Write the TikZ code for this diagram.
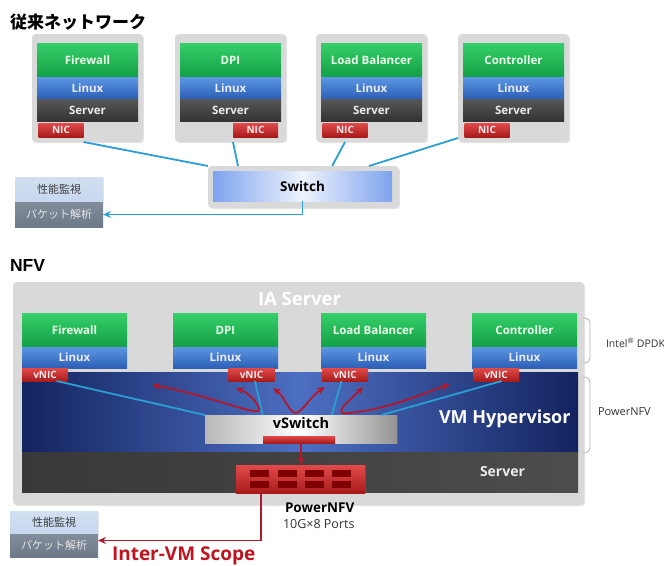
\documentclass[tikz,border=0pt]{standalone}
\usepackage{fontspec}
\setmainfont{Open Sans}
\newfontfamily\cjk{Noto Sans CJK JP}
\newfontfamily\arialf{Liberation Sans}
\usetikzlibrary{arrows.meta,calc,shadows}
\definecolor{cgray}{HTML}{D9D9D9}
\definecolor{appTop}{HTML}{36CF6A}
\definecolor{appBot}{HTML}{12A044}
\definecolor{linTop}{HTML}{5C97E2}
\definecolor{linBot}{HTML}{2C5FB6}
\definecolor{srvTop}{HTML}{585858}
\definecolor{srvBot}{HTML}{333333}
\definecolor{nicTop}{HTML}{E24A4A}
\definecolor{nicBot}{HTML}{A81B1B}
\definecolor{lineblue}{HTML}{2B9FD4}
\definecolor{arrred}{HTML}{B2182B}
\definecolor{navy}{HTML}{13235F}
\definecolor{hypmid}{HTML}{4D6FC2}
\definecolor{monA}{HTML}{C7D7EE}
\definecolor{monB}{HTML}{6C7989}
\definecolor{swblue}{HTML}{7EA3EE}
\definecolor{swlight}{HTML}{EEF3FD}
\definecolor{scopered}{HTML}{C0141E}
\definecolor{portred}{HTML}{7E0000}
\newcommand{\fsz}[1]{\fontsize{#1}{#1}\selectfont}
\tikzset{
  every node/.style={inner sep=0pt, outer sep=0pt},
  graybg/.style={fill=cgray, rounded corners=4pt, drop shadow={opacity=0.2, shadow xshift=1.2pt, shadow yshift=-1.2pt}},
  appbox/.style={top color=appTop, bottom color=appBot, text=white!92!green, font=\bfseries\fsz{11.5}},
  linuxbox/.style={top color=linTop, bottom color=linBot, text=white!92!blue, font=\bfseries\fsz{11.5}},
  serverbox/.style={top color=srvTop, bottom color=srvBot, text=white!92!black, font=\bfseries\fsz{11.5}},
  nicbox/.style={top color=nicTop, bottom color=nicBot, text=white!92!red, font=\bfseries\fsz{10}},
  bline/.style={draw=lineblue, line width=1.8pt},
  barrow/.style={draw=lineblue, line width=1.8pt, -{Stealth[length=8pt,width=7pt]}},
  rarrow/.style={draw=arrred, line width=1.8pt, -{Stealth[length=8pt,width=7pt]}},
  rdouble/.style={draw=arrred, line width=1.8pt, {Stealth[length=8pt,width=7pt]}-{Stealth[length=8pt,width=7pt]}},
  monA/.style={top color=monA!80!white, bottom color=monA, text=black!75, font=\cjk\fsz{11}},
  monB/.style={top color=monB!85!white, bottom color=monB, text=white!90!black, font=\cjk\fsz{11}},
  bracket/.style={draw=black!30, line width=0.8pt, rounded corners=5pt},
  port/.style={fill=portred},
}
\newcommand{\tradbox}[4]{%
  \node[graybg, minimum width=111pt, minimum height=108pt] (#1g) at (#2+55.5,88) {};
  \node[appbox, minimum width=101pt, minimum height=34pt] (#1a) at (#2+55.5,60) {#3};
  \node[linuxbox, minimum width=101pt, minimum height=22pt] (#1l) at (#2+55.5,88) {Linux};
  \node[serverbox, minimum width=101pt, minimum height=22pt] (#1s) at (#2+55.5,110) {Server};
  \node[nicbox, minimum width=45pt, minimum height=14pt] (#1n) at (#2+#4,130) {NIC};
}
\newcommand{\nfvbox}[3]{%
  \node[appbox, minimum width=105pt, minimum height=34pt] (#1a) at (#2+52.5,330) {#3};
  \node[linuxbox, minimum width=105pt, minimum height=21pt] (#1l) at (#2+52.5,357.5) {Linux};
}
\begin{document}
\begin{tikzpicture}[x=1pt,y=-1pt]
\useasboundingbox[fill=white] (0,0) rectangle (664,565);

% ---------- traditional network ----------
\node[anchor=base west, font=\cjk\bfseries\fsz{17}] (title1) at (10,28) {従来ネットワーク};

\tradbox{t1}{32}{Firewall}{29}
\tradbox{t2}{175}{DPI}{80.5}
\tradbox{t3}{316}{Load Balancer}{29}
\tradbox{t4}{458}{Controller}{29}

\node[graybg, minimum width=191pt, minimum height=42pt] (swg) at (303.5,187) {};
\node[left color=swblue, right color=swblue, middle color=swlight, minimum width=179pt, minimum height=30pt, font=\bfseries\fsz{13.5}] (swin) at (302.5,186) {Switch};

\draw[bline] (t1g.south -| t1n.east) -- (swg.north west);
\draw[bline] (t2g.south -| t2n.west) -- ($(swg.north west)!0.157!(swg.north east)$);
\draw[bline] (t3g.south -| t3n.center) -- ($(swg.north west)!0.65!(swg.north east)$);
\draw[bline] ($(t4g.south west)+(0,-4)$) -- ($(swg.north west)!0.843!(swg.north east)$);

\node[monA, minimum width=88pt, minimum height=25pt, drop shadow={opacity=0.2, shadow xshift=1pt, shadow yshift=-1pt}] (m1a) at (59,189.5) {性能監視};
\node[monB, minimum width=88pt, minimum height=25pt] (m1b) at (59,214.5) {パケット解析};
\draw[barrow] (swin.south) |- (m1b.east);

% ---------- NFV ----------
\node[anchor=base west, font=\arialf\bfseries\fsz{17.5}] (title2) at (10,271) {NFV};

\node[graybg, minimum width=571pt, minimum height=223pt] (ia) at (298.5,393.5) {};
\node[anchor=base west, font=\bfseries\fsz{18.5}, text=white] (iatext) at (258,305) {IA Server};

\nfvbox{n1}{22}{Firewall}
\nfvbox{n2}{173}{DPI}
\nfvbox{n3}{321}{Load Balancer}
\nfvbox{n4}{472}{Controller}

\node[left color=navy, right color=navy, middle color=hypmid, minimum width=556pt, minimum height=80pt] (hyp) at (300,412) {};
\node[left color=black!78, right color=black!70, minimum width=556pt, minimum height=40pt] (srv) at (300,472) {};
\node[anchor=base west, font=\bfseries\fsz{18}, text=white] (hyptext) at (439,423) {VM Hypervisor};
\node[anchor=base west, font=\bfseries\fsz{14}, text=white!92!black] (srvtext) at (480,476) {Server};

\node[nicbox, minimum width=46pt, minimum height=13pt] (v1) at (45,374.5) {vNIC};
\node[nicbox, minimum width=46pt, minimum height=13pt] (v2) at (251.5,374.5) {vNIC};
\node[nicbox, minimum width=46pt, minimum height=13pt] (v3) at (345,374.5) {vNIC};
\node[nicbox, minimum width=46pt, minimum height=13pt] (v4) at (496,374.5) {vNIC};

\node[left color=black!28, right color=black!42, middle color=white, minimum width=192pt, minimum height=28pt, drop shadow={opacity=0.3, shadow xshift=1pt, shadow yshift=-1pt}] (vsw) at (301,429) {};

\draw[bline] ($(v1.south)!0.5!(v1.south east)$) -- (vsw.north west);
\draw[bline] ($(v2.south)!0.15!(v2.south east)$) -- ($(vsw.north west)!0.30!(vsw.north east)$);
\draw[bline] ($(v3.south)!0.15!(v3.south west)$) -- ($(vsw.north west)!0.66!(vsw.north east)$);
\draw[bline] ($(v4.south)!0.25!(v4.south east)$) -- ($(vsw.north west)!0.92!(vsw.north east)$);

\node[font=\bfseries\fsz{14.5}] (vswtext) at (301,423) {vSwitch};
\node[top color=nicTop, bottom color=nicBot, minimum width=72pt, minimum height=7pt] (vbar) at (299,439.5) {};

% red loops
\coordinate (a1s) at (152,385);
\coordinate (a1e) at (236,388);
\coordinate (a2s) at (273,388);
\coordinate (a2e) at (325,387);
\coordinate (a3s) at (363,387);
\coordinate (a3e) at (450,384);
\draw[rdouble] (a1s) .. controls (215,396) and (268,422) .. (258,406) .. controls (254,398) and (246,392) .. (a1e);
\draw[rdouble] (a2s) .. controls (284,396) and (290,414) .. (296,413) .. controls (302,412) and (312,395) .. (a2e);
\draw[rdouble] (a3s) .. controls (352,398) and (330,416) .. (348,413) .. controls (385,410) and (420,395) .. (a3e);

% PowerNFV card
\node[top color=nicTop, bottom color=nicBot, minimum width=129pt, minimum height=28pt, drop shadow={opacity=0.3, shadow xshift=1pt, shadow yshift=-1pt}] (card) at (300.5,479) {};
\foreach \cx in {259,287,314,341}{
  \node[port, minimum width=19pt, minimum height=7pt] (p\cx a) at (\cx,473.5) {};
  \node[port, minimum width=19pt, minimum height=7pt] (p\cx b) at (\cx,484.5) {};
}
\draw[rarrow] (vbar.south -| 301,0) -- (card.north -| 301,0);

\node[anchor=base west, font=\bfseries\fsz{13.5}] (pnfv) at (285,512) {PowerNFV};
\node[anchor=base west, font=\fsz{12.5}, text=black!80] (ports) at (283,528) {10G×8 Ports};

\node[monA, minimum width=88pt, minimum height=23pt, drop shadow={opacity=0.2, shadow xshift=1pt, shadow yshift=-1pt}] (m2a) at (54,522.5) {性能監視};
\node[monB, minimum width=88pt, minimum height=23pt] (m2b) at (54,545.5) {パケット解析};
\coordinate (cardout) at ($(card.south west)!0.194!(card.south east)$);
\draw[rarrow] (cardout) |- ($(m2b.east)+(0,-5)$);
\node[anchor=base west, font=\bfseries\fsz{19}, text=scopered] (scope) at (112,560) {Inter-VM Scope};

% brackets and labels
\draw[bracket] (583,318) -- (590,318) -- (590,363) -- (583,363);
\draw[bracket] (583,377) -- (590,377) -- (590,453) -- (583,453);
\node[anchor=base west, font=\fsz{10.5}, text=black!80] (dpdk) at (606,347) {Intel\textsuperscript{®} DPDK};
\node[anchor=base west, font=\fsz{11}, text=black!80] (pnfvlbl) at (598,415) {PowerNFV};
\end{tikzpicture}
\end{document}
